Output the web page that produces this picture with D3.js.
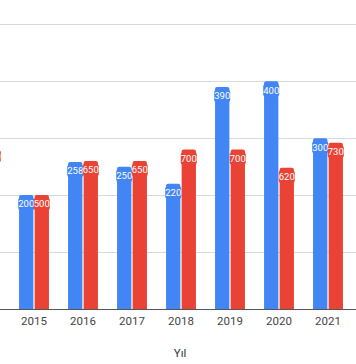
<!DOCTYPE html>
<html><head><meta charset="utf-8">
<script src="https://cdn.jsdelivr.net/npm/d3@7"></script>
<style>html,body{margin:0;padding:0;background:#fff;overflow:hidden}</style>
</head><body>
<svg id="c" width="356" height="364"></svg>
<script>
const years = ["2014","2015","2016","2017","2018","2019","2020","2021"];
const blueValues = [250, 200, 258, 250, 220, 390, 400, 300];
const redValues = [710, 500, 650, 650, 700, 700, 620, 730];
const blueTicks = [0, 100, 200, 300, 400, 500];
const xTitle = "Yıl";

const svg = d3.select("#c");
const W = 356, H = 364;
const baseY = 309, topY = 24.3;

const x = d3.scaleBand().domain(years).range([-39.5, -39.5 + 49 * years.length]).paddingInner(0.39).paddingOuter(0.195);
const sub = d3.scaleBand().domain(["b","r"]).range([0, x.bandwidth()]).paddingInner(0.08);
const yL = d3.scaleLinear().domain([0, 500]).range([baseY, topY]);
const yR = d3.scaleLinear().domain([0, 1250]).range([baseY, topY]);

// gridlines
svg.append("g").selectAll("line").data(blueTicks.filter(d => d > 0)).join("line")
  .attr("x1", 0).attr("x2", W).attr("y1", d => Math.round(yL(d)) + 0.5).attr("y2", d => Math.round(yL(d)) + 0.5)
  .attr("stroke", "#d9d9d9").attr("stroke-width", 1);

const series = [
  {key: "b", vals: blueValues, color: "#4285F4", y: yL},
  {key: "r", vals: redValues, color: "#EA4335", y: yR}
];

series.forEach(s => {
  const g = svg.append("g");
  g.selectAll("path").data(years).join("path")
    .attr("fill", s.color)
    .attr("d", (d, i) => {
      const x0 = x(d) + sub(s.key), w = sub.bandwidth(), y0 = s.y(s.vals[i]), r = 2;
      return `M${x0},${baseY}V${y0 + r}Q${x0},${y0} ${x0 + r},${y0}H${x0 + w - r}Q${x0 + w},${y0} ${x0 + w},${y0 + r}V${baseY}Z`;
    });
  const visible = years.filter(d => x(d) + sub(s.key) + sub.bandwidth() > -2);
  const lab = svg.append("g").selectAll("g").data(visible).join("g")
    .attr("transform", d => `translate(${x(d) + sub(s.key) + sub.bandwidth() / 2},${s.y(s.vals[years.indexOf(d)]) + 9})`);
  lab.append("rect").attr("x", -8).attr("y", -6).attr("width", 16).attr("height", 12).attr("rx", 2)
    .attr("fill", s.color);
  lab.append("text").text(d => s.vals[years.indexOf(d)])
    .attr("text-anchor", "middle").attr("dy", "0.35em")
    .attr("font-family", "Roboto, Arial, sans-serif").attr("font-size", 9.5)
    .attr("fill", "#fff");
});

// baseline
svg.append("line").attr("x1", 0).attr("x2", W).attr("y1", baseY + 0.5).attr("y2", baseY + 0.5)
  .attr("stroke", "#555").attr("stroke-width", 1);

// x axis (only categories whose label is within view)
const xAxis = d3.axisBottom(x).tickSize(0).tickPadding(8).tickValues(years.slice(1));
const ax = svg.append("g").attr("transform", `translate(0,${baseY})`).call(xAxis);
ax.select(".domain").remove();
ax.selectAll("text").attr("font-family", "Roboto, Arial, sans-serif").attr("font-size", 11.5).attr("fill", "#444");

svg.append("text").text(xTitle).attr("x", 180).attr("y", 357)
  .attr("text-anchor", "middle").attr("font-family", "Roboto, Arial, sans-serif")
  .attr("font-size", 11.5).attr("fill", "#333");
</script>
</body></html>
